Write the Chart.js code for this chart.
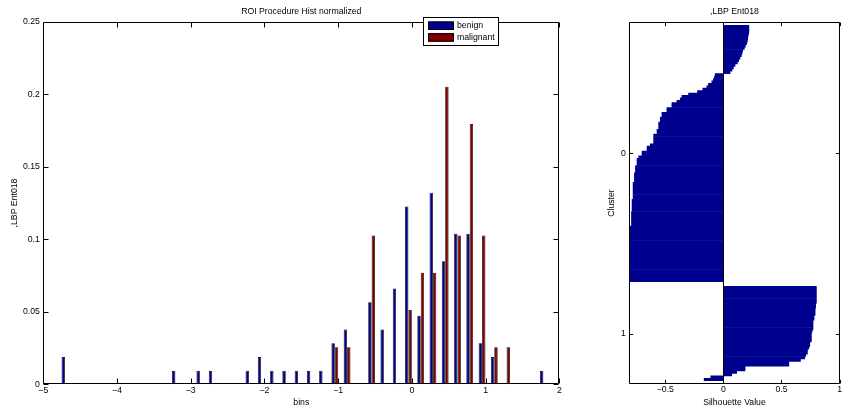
<!DOCTYPE html>
<html>
<head>
<meta charset="utf-8">
<title>ROI Procedure Hist normalized</title>
<script src="https://cdn.jsdelivr.net/npm/chart.js@4.4.1/dist/chart.umd.min.js"></script>
<style>
  html, body { margin: 0; padding: 0; background: #fff; }
  #wrap { position: relative; width: 843px; height: 408px; overflow: hidden; }
  #histChart { position: absolute; left: 0; top: 0; }
  #silChart { position: absolute; left: 596px; top: 0; }
</style>
</head>
<body>
<div id="wrap">
  <canvas id="histChart" width="600" height="408"></canvas>
  <canvas id="silChart" width="247" height="408"></canvas>
</div>
<script>
// Histogram: 40 bin centres and the normalized counts of each class
const binCenters = [
  -4.706, -4.540, -4.373, -4.207, -4.040, -3.874, -3.708, -3.541, -3.375, -3.208,
  -3.042, -2.876, -2.709, -2.543, -2.376, -2.210, -2.044, -1.877, -1.711, -1.544,
  -1.378, -1.212, -1.045, -0.879, -0.712, -0.546, -0.380, -0.213, -0.047, 0.120,
  0.286, 0.452, 0.619, 0.785, 0.952, 1.118, 1.285, 1.451, 1.617, 1.784
];
const benign = [
  0.0189, 0, 0, 0, 0, 0, 0, 0, 0, 0.0094,
  0, 0.0094, 0.0094, 0, 0, 0.0094, 0.0189, 0.0094, 0.0094, 0.0094,
  0.0094, 0.0094, 0.0283, 0.0377, 0, 0.0566, 0.0377, 0.0660, 0.1226, 0.0472,
  0.1321, 0.0849, 0.1038, 0.1038, 0.0283, 0.0189, 0, 0, 0, 0.0094
];
const malignant = [
  0, 0, 0, 0, 0, 0, 0, 0, 0, 0,
  0, 0, 0, 0, 0, 0, 0, 0, 0, 0,
  0, 0, 0.0256, 0.0256, 0, 0.1026, 0, 0, 0.0513, 0.0769,
  0.0769, 0.2051, 0.1026, 0.1795, 0.1026, 0.0256, 0.0256, 0, 0, 0
];
const histXTicks = [-5, -4, -3, -2, -1, 0, 1, 2];
const histXLabels = ['\u22125', '\u22124', '\u22123', '\u22122', '\u22121', '0', '1', '2'];
const histYTicks = [0, 0.05, 0.1, 0.15, 0.2, 0.25];
const histYLabels = ['0', '0.05', '0.1', '0.15', '0.2', '0.25'];

// Silhouette values of each cluster, sorted in descending order
const cluster0 = [
  0.219, 0.219, 0.219, 0.217, 0.211, 0.209, 0.206, 0.200, 0.189, 0.180,
  0.166, 0.160, 0.154, 0.143, 0.131, 0.120, 0.100, 0.086, 0.074, 0.057,
  -0.071, -0.077, -0.086, -0.100, -0.129, -0.143, -0.177, -0.223, -0.300, -0.357,
  -0.371, -0.400, -0.443, -0.443, -0.486, -0.486, -0.529, -0.529, -0.543, -0.543,
  -0.557, -0.557, -0.557, -0.571, -0.571, -0.600, -0.600, -0.600, -0.600, -0.629,
  -0.657, -0.657, -0.700, -0.700, -0.729, -0.743, -0.743, -0.743, -0.757, -0.757,
  -0.757, -0.766, -0.766, -0.766, -0.766, -0.777, -0.777, -0.777, -0.777, -0.777,
  -0.777, -0.777, -0.786, -0.786, -0.786, -0.786, -0.786, -0.791, -0.791, -0.791,
  -0.791, -0.791, -0.791, -0.810, -0.810, -0.810, -0.810, -0.810, -0.810, -0.810,
  -0.810, -0.810, -0.810, -0.810, -0.810, -0.810, -0.810, -0.810, -0.810, -0.810,
  -0.810, -0.810, -0.810, -0.810, -0.810, -0.810
];
const cluster1 = [
  0.800, 0.800, 0.800, 0.800, 0.800, 0.800, 0.800, 0.794, 0.794, 0.789,
  0.789, 0.789, 0.780, 0.780, 0.771, 0.771, 0.771, 0.771, 0.763, 0.757,
  0.757, 0.757, 0.757, 0.743, 0.743, 0.734, 0.723, 0.723, 0.709, 0.700,
  0.663, 0.563, 0.563, 0.186, 0.186, 0.114, 0.071, -0.109, -0.166
];
const clusterNames = ['0', '1'];
const silXTicks = [-0.5, 0, 0.5, 1];
const silXLabels = ['\u22120.5', '0', '0.5', '1'];

const FONT = '"Liberation Sans", Arial, Helvetica, sans-serif';
Chart.defaults.font.family = FONT;
Chart.defaults.font.size = 8.7;
Chart.defaults.color = '#000';

const snap = v => Math.round(v) + 0.5;

// Box around the plot area with inward tick marks on all four sides
const axesBox = {
  id: 'axesBox',
  afterDatasetsDraw(chart, args, opts) {
    const { ctx, chartArea: a, scales } = chart;
    const len = opts.tickLength || 5;
    const L = snap(a.left), R = snap(a.right - 1), T = snap(a.top), B = snap(a.bottom - 1);
    ctx.save();
    ctx.strokeStyle = '#000';
    ctx.lineWidth = 1;
    ctx.beginPath();
    if (opts.baseline) {
      // zero line of the horizontal bars
      const x0 = snap(scales.x.getPixelForValue(0));
      ctx.moveTo(x0, T);
      ctx.lineTo(x0, B);
    }
    scales.x.ticks.forEach(t => {
      const x = snap(scales.x.getPixelForValue(t.value));
      ctx.moveTo(x, B); ctx.lineTo(x, B - len);
      ctx.moveTo(x, T); ctx.lineTo(x, T + len);
    });
    scales.y.ticks.forEach(t => {
      const y = snap(scales.y.getPixelForValue(t.value));
      ctx.moveTo(L, y); ctx.lineTo(L + len, y);
      ctx.moveTo(R, y); ctx.lineTo(R - len, y);
    });
    ctx.rect(L, T, R - L, B - T);
    ctx.stroke();
    ctx.restore();
  },
  // x tick labels written last, under the bottom edge of the axes
  afterDraw(chart, args, opts) {
    if (!opts.xLabels) return;
    const { ctx, chartArea: a, scales } = chart;
    ctx.save();
    ctx.font = '8.7px ' + FONT;
    ctx.fillStyle = '#000';
    ctx.textAlign = 'center';
    ctx.textBaseline = 'top';
    scales.x.ticks.forEach(t => {
      ctx.fillText(t.label, scales.x.getPixelForValue(t.value), a.bottom + 1);
    });
    ctx.restore();
  }
};

// Boxed legend sitting on the top edge of the histogram axes
const boxLegend = {
  id: 'boxLegend',
  afterDraw(chart, args, opts) {
    if (!opts.display) return;
    const { ctx } = chart;
    const { left, top, width, height } = opts;
    ctx.save();
    ctx.fillStyle = '#fff';
    ctx.fillRect(left, top, width, height);
    ctx.strokeStyle = '#000';
    ctx.lineWidth = 1;
    ctx.strokeRect(left + 0.5, top + 0.5, width - 1, height - 1);
    ctx.font = '8.7px ' + FONT;
    ctx.textBaseline = 'middle';
    chart.data.datasets.forEach((ds, i) => {
      const y = top + 4.5 + i * 11.7;
      ctx.fillStyle = ds.backgroundColor;
      ctx.fillRect(left + 5, y, 26, 8.5);
      ctx.strokeRect(left + 5.5, y + 0.5, 25, 7.5);
      ctx.fillStyle = '#000';
      ctx.fillText(ds.label, left + 34, y + 4.5);
    });
    ctx.restore();
  }
};

Chart.register(axesBox, boxLegend);

// Fixed tick positions with their own label strings
function fixedTicks(values, labels) {
  return {
    afterBuildTicks: s => { s.ticks = values.map(v => ({ value: v })); },
    callback: (v, i) => labels[i]
  };
}

function histDataset(label, values, color) {
  return {
    label: label,
    data: binCenters.map((x, i) => ({ x: x, y: values[i] })),
    backgroundColor: color,
    borderColor: '#000',
    borderWidth: 0.75,
    categoryPercentage: 0.554,
    barPercentage: 1,
    inflateAmount: 0
  };
}

const hx = fixedTicks(histXTicks, histXLabels);
const hy = fixedTicks(histYTicks, histYLabels);

const histChart = new Chart(document.getElementById('histChart'), {
  type: 'bar',
  data: {
    datasets: [
      histDataset('benign', benign, '#00008f'),
      histDataset('malignant', malignant, '#800000')
    ]
  },
  options: {
    responsive: false,
    animation: false,
    events: [],
    layout: { padding: { left: 0, right: 40.7, top: 0, bottom: 0 } },
    scales: {
      x: {
        type: 'linear', min: -5, max: 2, offset: false,
        grid: { display: false, drawTicks: false }, border: { display: false },
        afterBuildTicks: hx.afterBuildTicks,
        afterFit: s => { s.height = 23.7; },
        ticks: { padding: 1, maxRotation: 0, autoSkip: false, callback: hx.callback },
        title: { display: true, text: 'bins', padding: 0 }
      },
      y: {
        type: 'linear', min: 0, max: 0.25,
        grid: { display: false, drawTicks: false }, border: { display: false },
        afterBuildTicks: hy.afterBuildTicks,
        afterFit: s => { s.width = 43.3; },
        ticks: { padding: 3.5, autoSkip: false, callback: hy.callback },
        title: { display: true, text: ',LBP Ent018', padding: { top: 9, bottom: 0 } }
      }
    },
    plugins: {
      legend: { display: false },
      tooltip: { enabled: false },
      title: {
        display: true, text: 'ROI Procedure Hist normalized', fullSize: false,
        font: { size: 8.7, weight: 'normal' }, padding: { top: 6, bottom: 5.26 }
      },
      axesBox: { tickLength: 5 },
      boxLegend: { display: true, left: 423, top: 17, width: 76, height: 29 }
    }
  }
});

// Silhouette rows: clusters stacked top to bottom, separated by empty rows
const rowGap = 2;
const silRows = [];
const clusterTicks = [];
let row = rowGap;
[cluster0, cluster1].forEach(vals => {
  const first = row + 1;
  vals.forEach(v => { row += 1; silRows.push({ x: v, y: row }); });
  clusterTicks.push((first + row) / 2);
  row += rowGap;
});
const silMin = Math.min(0, ...cluster0, ...cluster1);

const sx = fixedTicks(silXTicks, silXLabels);
const sy = fixedTicks(clusterTicks, clusterNames);

const silChart = new Chart(document.getElementById('silChart'), {
  type: 'bar',
  data: {
    datasets: [{
      label: 'Silhouette',
      data: silRows,
      backgroundColor: '#00008f',
      borderWidth: 0,
      categoryPercentage: 1,
      barPercentage: 1
    }]
  },
  options: {
    indexAxis: 'y',
    responsive: false,
    animation: false,
    events: [],
    scales: {
      x: {
        type: 'linear', min: silMin, max: 1, offset: false,
        grid: { display: false, drawTicks: false }, border: { display: false },
        afterBuildTicks: sx.afterBuildTicks,
        afterFit: s => { s.height = 23.7; },
        // labels keep their space here and are written by axesBox
        ticks: { padding: 1, maxRotation: 0, autoSkip: false, color: 'rgba(0,0,0,0)', callback: sx.callback },
        title: { display: true, text: 'Silhouette Value', padding: 0 }
      },
      y: {
        type: 'linear', reverse: true, min: 1, max: row, offset: false,
        grid: { display: false, drawTicks: false }, border: { display: false },
        afterBuildTicks: sy.afterBuildTicks,
        afterFit: s => { s.width = 33.3; },
        ticks: { padding: 3.5, autoSkip: false, callback: sy.callback },
        title: { display: true, text: 'Cluster', padding: { top: 10.3, bottom: 0 } }
      }
    },
    plugins: {
      legend: { display: false },
      tooltip: { enabled: false },
      title: {
        display: true, text: ',LBP Ent018', fullSize: false,
        font: { size: 8.7, weight: 'normal' }, padding: { top: 6, bottom: 5.26 }
      },
      axesBox: { tickLength: 3.6, baseline: true, xLabels: true }
    }
  }
});
</script>
</body>
</html>
